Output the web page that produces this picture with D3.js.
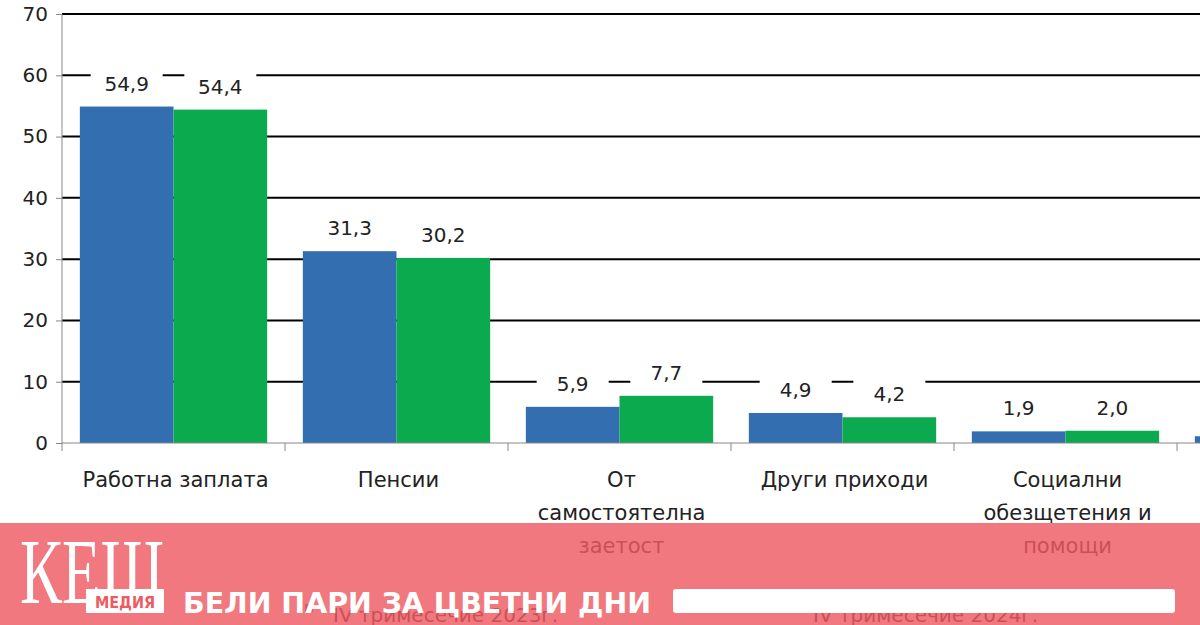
<!DOCTYPE html>
<html><head><meta charset="utf-8">
<script src="https://cdn.jsdelivr.net/npm/d3@7"></script>
<style>body{margin:0;background:#fff;overflow:hidden}</style>
</head><body><div id="container"></div>
<script>
let categories = ["Работна заплата", "Пенсии", "От самостоятелна заетост", "Други приходи", "Социални обезщетения и помощи", "Други"];
let labelLines = [["Работна заплата"], ["Пенсии"], ["От", "самостоятелна", "заетост"], ["Други приходи"], ["Социални", "обезщетения и", "помощи"], []];
let series2023 = [54.9, 31.3, 5.9, 4.9, 1.9, 1.1];
let series2024 = [54.4, 30.2, 7.7, 4.2, 2.0, 1.5];
let yTicks = [0, 10, 20, 30, 40, 50, 60, 70];
let seriesNames = ["IV тримесечие 2023г.", "IV тримесечие 2024г."];
let colors = ["#336fb0", "#0caa4e"];
let font = "Verdana, DejaVu Sans, sans-serif";

let svg = d3.select("#container").append("svg").attr("width", 1200).attr("height", 625);

let x = d3.scaleBand().domain(categories).range([62, 62 + 223 * 6]).paddingInner(0.16).paddingOuter(0.08);
let y = d3.scaleLinear().domain([0, 70]).range([443, 14]);

// grid
svg.append("g").selectAll("line").data(yTicks.filter(d => d > 0)).enter()
  .append("line")
    .attr("x1", 62).attr("x2", 1200)
    .attr("y1", d => y(d)).attr("y2", d => y(d))
    .attr("stroke", "#000").attr("stroke-width", 2);

// y axis
let yAxis = svg.append("g").attr("transform", "translate(62,0)")
  .call(d3.axisLeft(y).tickValues(yTicks).tickSize(6).tickPadding(8));
yAxis.select(".domain").attr("stroke", "#888").attr("d", "M0,14V443");
yAxis.selectAll(".tick line").attr("stroke", "#888");
yAxis.selectAll("text").attr("font-family", font).attr("font-size", 20).attr("fill", "#222");

// bars
let all = [series2023, series2024];
let bw = x.bandwidth() / 2;
all.forEach((s, i) => {
  svg.append("g").selectAll("rect").data(categories).enter()
    .append("rect")
      .attr("x", d => x(d) + i * bw)
      .attr("y", (d, j) => y(s[j]))
      .attr("width", bw)
      .attr("height", (d, j) => y(0) - y(s[j]))
      .attr("fill", colors[i]);
});

// x axis
svg.append("line").attr("x1", 62).attr("x2", 1200).attr("y1", 443).attr("y2", 443).attr("stroke", "#888");
svg.append("g").selectAll("line").data(d3.range(7)).enter()
  .append("line")
    .attr("x1", d => 62 + 223 * d).attr("x2", d => 62 + 223 * d)
    .attr("y1", 443).attr("y2", 451).attr("stroke", "#888");

// value labels (sixth category is off the visible area)
let shown = categories.slice(0, 5);
all.forEach((s, i) => {
  let g = svg.append("g").selectAll("g").data(shown).enter().append("g")
    .attr("transform", (d, j) => "translate(" + (x(d) + i * bw + bw / 2) + "," + (y(s[j]) - 16) + ")");
  g.append("rect").attr("x", -36).attr("y", -24).attr("width", 72).attr("height", 34).attr("fill", "#fff");
  g.append("text").attr("text-anchor", "middle")
    .attr("font-family", font).attr("font-size", 20).attr("fill", "#222")
    .text((d, j) => s[j].toFixed(1).replace(".", ","));
});

// category labels
let cl = svg.append("g").selectAll("text").data(shown).enter()
  .append("text")
    .attr("text-anchor", "middle")
    .attr("y", 487)
    .attr("font-family", font).attr("font-size", 21).attr("fill", "#222");
cl.each(function(d, j) {
  d3.select(this).selectAll("tspan").data(labelLines[j]).enter().append("tspan")
    .attr("x", x(d) + x.bandwidth() / 2 + 2).attr("dy", (t, k) => k ? 33 : 0).text(t => t);
});

// legend (mostly hidden under banner)
seriesNames.forEach((n, i) => {
  let lx = [305, 785][i];
  svg.append("rect").attr("x", lx).attr("y", 604).attr("width", 8).attr("height", 8).attr("fill", colors[i]);
  svg.append("text").attr("x", lx + 28).attr("y", 622)
    .attr("font-family", font).attr("font-size", 20).attr("fill", "#222").text(n);
});

// banner overlay
svg.append("rect").attr("x", 0).attr("y", 523).attr("width", 1200).attr("height", 102)
  .attr("fill", "#ee5a62").attr("opacity", 0.82);
svg.append("rect").attr("x", 673).attr("y", 589).attr("width", 502).attr("height", 24).attr("rx", 3).attr("fill", "#fff");
svg.append("g").attr("transform", "translate(20,603) scale(1,1.45)")
  .append("text").attr("x", 0).attr("y", 0)
  .attr("font-family", "Liberation Serif, serif").attr("font-size", 64).attr("fill", "#fff")
  .attr("textLength", 144).attr("lengthAdjust", "spacingAndGlyphs").text("КЕШ");
svg.append("rect").attr("x", 86).attr("y", 589).attr("width", 78).attr("height", 24).attr("fill", "#fff");
svg.append("text").attr("x", 125).attr("y", 608).attr("text-anchor", "middle")
  .attr("font-family", "DejaVu Sans Condensed, sans-serif").attr("font-weight", "bold").attr("font-size", 16)
  .attr("fill", "#ee5a62").text("МЕДИЯ");
svg.append("text").attr("x", 183).attr("y", 613)
  .attr("font-family", "DejaVu Sans Condensed, sans-serif").attr("font-weight", "bold").attr("font-size", 28)
  .attr("fill", "#fff").attr("textLength", 468).attr("lengthAdjust", "spacingAndGlyphs").text("БЕЛИ ПАРИ ЗА ЦВЕТНИ ДНИ");
</script></body></html>
